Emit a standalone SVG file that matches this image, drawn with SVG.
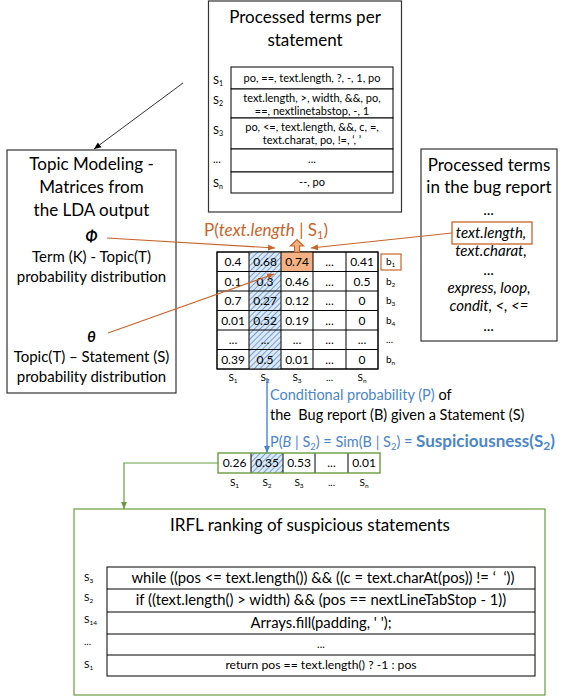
<svg xmlns="http://www.w3.org/2000/svg" width="566" height="700" viewBox="0 0 566 700">
<defs>
<style>
text{font-family:Lato,"Liberation Sans",sans-serif;fill:#000}
.t17{font-size:17px}
.t15{font-size:15px}
.t14{font-size:14.5px}
.t12{font-size:12px}
.t11{font-size:11px}
.t10{font-size:10px}
.mid{text-anchor:middle}
.box{fill:#fff;stroke:#333;stroke-width:1.2}
.cell{fill:#fff;stroke:#000;stroke-width:1}
.blue{fill:#4A86C8}
.orange{fill:#C8642A}
.it{font-style:italic}
</style>
<pattern id="hatch" width="4" height="4" patternUnits="userSpaceOnUse" patternTransform="rotate(45)">
<rect width="4" height="4" fill="#DCE8F5"/>
<line x1="0" y1="0" x2="0" y2="4" stroke="#5B8FCB" stroke-width="1.6"/>
</pattern>
<marker id="ao" markerWidth="8" markerHeight="8" refX="7" refY="4" orient="auto" markerUnits="userSpaceOnUse"><path d="M0,1 L7,4 L0,7 Z" fill="#C8642A"/></marker>
<marker id="ab" markerWidth="8" markerHeight="8" refX="7" refY="4" orient="auto" markerUnits="userSpaceOnUse"><path d="M0,1 L7,4 L0,7 Z" fill="#4A86C8"/></marker>
<marker id="ag" markerWidth="8" markerHeight="8" refX="7" refY="4" orient="auto" markerUnits="userSpaceOnUse"><path d="M0,1 L7,4 L0,7 Z" fill="#6A9C3F"/></marker>
<marker id="ak" markerWidth="8" markerHeight="8" refX="7" refY="4" orient="auto" markerUnits="userSpaceOnUse"><path d="M0,1 L7,4 L0,7 Z" fill="#000"/></marker>
</defs>
<rect width="566" height="700" fill="#fff"/>

<g id="statement-terms">
<rect class="box" x="208.5" y="1" width="193" height="211"/>
<text class="t17 mid" x="305" y="23">Processed terms per</text>
<text class="t17 mid" x="305" y="46">statement</text>
<rect class="cell" x="231" y="67" width="162" height="22"/>
<rect class="cell" x="231" y="89" width="162" height="29"/>
<rect class="cell" x="231" y="118" width="162" height="31"/>
<rect class="cell" x="231" y="149" width="162" height="23"/>
<rect class="cell" x="231" y="172" width="162" height="21"/>
<text class="t11 mid" x="312" y="82">po, ==, text.length, ?, -, 1, po</text>
<text class="t11 mid" x="312" y="102">text.length, &gt;, width, &amp;&amp;, po,</text>
<text class="t11 mid" x="312" y="115">==, nextlinetabstop, -, 1</text>
<text class="t11 mid" x="312" y="131">po, &lt;=, text.length, &amp;&amp;, c, =,</text>
<text class="t11 mid" x="312" y="144">text.charat, po, !=, ‘, ’</text>
<text class="t11 mid" x="312" y="163">...</text>
<text class="t11 mid" x="312" y="186">--, po</text>
<text class="t11" x="213" y="84">S<tspan font-size="7" dy="2">1</tspan></text>
<text class="t11" x="213" y="104">S<tspan font-size="7" dy="2">2</tspan></text>
<text class="t11" x="213" y="134">S<tspan font-size="7" dy="2">3</tspan></text>
<text class="t11" x="213" y="163">...</text>
<text class="t11" x="213" y="187">S<tspan font-size="7" dy="2">n</tspan></text>
</g>

<g id="topic-modeling">
<rect class="box" x="7" y="150" width="169" height="243"/>
<text class="t17 mid" x="91.5" y="170">Topic Modeling -</text>
<text class="t17 mid" x="91.5" y="193">Matrices from</text>
<text class="t17 mid" x="91.5" y="216">the LDA output</text>
<text class="t15 mid" x="91.5" y="242" font-weight="bold" font-style="italic">Φ</text>
<text class="t15 mid" x="91.5" y="262">Term (K) - Topic(T)</text>
<text class="t15 mid" x="91.5" y="282">probability distribution</text>
<text class="t15 mid" x="91.5" y="342" font-weight="bold" font-style="italic">θ</text>
<text class="t15 mid" x="91.5" y="362">Topic(T) – Statement (S)</text>
<text class="t15 mid" x="91.5" y="382">probability distribution</text>
</g>

<g id="bug-report-terms">
<rect class="box" x="421" y="149" width="136" height="192"/>
<text class="t17 mid" x="489" y="171">Processed terms</text>
<text class="t17 mid" x="489" y="193">in the bug report</text>
<text class="t15 mid it" x="489" y="215">...</text>
<rect x="452" y="222" width="80" height="22" fill="none" stroke="#C8642A" stroke-width="1.3"/>
<text class="t15 mid it" x="491" y="238">text.length,</text>
<text class="t15 mid it" x="491" y="256">text.charat,</text>
<text class="t15 mid it" x="489" y="275">...</text>
<text class="t15 mid it" x="489" y="293">express, loop,</text>
<text class="t15 mid it" x="489" y="311">condit, &lt;, &lt;=</text>
<text class="t15 mid it" x="489" y="331">...</text>
</g>

<g id="matrix">
<g class="cells">
<rect class="cell" x="217" y="252" width="161" height="117"/>
<rect x="249" y="252" width="32" height="117" fill="url(#hatch)"/>
<rect x="281" y="252" width="32" height="19.5" fill="#F4B183"/>
<path d="M217,271.5 H378 M217,291 H378 M217,310.5 H378 M217,330 H378 M217,349.5 H378 M249,252 V369 M281,252 V369 M313,252 V369 M346,252 V369" stroke="#000" stroke-width="1" fill="none"/>
<rect x="217" y="252" width="161" height="117" fill="none" stroke="#000" stroke-width="1"/>
</g>
<g class="t12 mid">
<text x="233" y="266">0.4</text><text x="265" y="266">0.68</text><text x="297" y="266">0.74</text><text x="329.5" y="266">...</text><text x="362" y="266">0.41</text>
<text x="233" y="285.5">0.1</text><text x="265" y="285.5">0.3</text><text x="297" y="285.5">0.46</text><text x="329.5" y="285.5">...</text><text x="362" y="285.5">0.5</text>
<text x="233" y="305">0.7</text><text x="265" y="305">0.27</text><text x="297" y="305">0.12</text><text x="329.5" y="305">...</text><text x="362" y="305">0</text>
<text x="233" y="324.5">0.01</text><text x="265" y="324.5">0.52</text><text x="297" y="324.5">0.19</text><text x="329.5" y="324.5">...</text><text x="362" y="324.5">0</text>
<text x="233" y="344">...</text><text x="265" y="344">...</text><text x="297" y="344">...</text><text x="329.5" y="344">...</text><text x="362" y="344">...</text>
<text x="233" y="363.5">0.39</text><text x="265" y="363.5">0.5</text><text x="297" y="363.5">0.01</text><text x="329.5" y="363.5">...</text><text x="362" y="363.5">0</text>
</g>
<g class="t10 mid">
<text x="233" y="381">S<tspan font-size="6.5" dy="2">1</tspan></text>
<text x="265" y="381">S<tspan font-size="6.5" dy="2">2</tspan></text>
<text x="297" y="381">S<tspan font-size="6.5" dy="2">3</tspan></text>
<text x="329.5" y="381">...</text>
<text x="362" y="381">S<tspan font-size="6.5" dy="2">n</tspan></text>
</g>
<rect x="381" y="254" width="20" height="16" fill="none" stroke="#C8642A" stroke-width="1.2"/>
<g class="t10">
<text x="386" y="265">b<tspan font-size="6.5" dy="2">1</tspan></text>
<text x="386" y="284.5">b<tspan font-size="6.5" dy="2">2</tspan></text>
<text x="386" y="304">b<tspan font-size="6.5" dy="2">3</tspan></text>
<text x="386" y="323.5">b<tspan font-size="6.5" dy="2">4</tspan></text>
<text x="386" y="343">...</text>
<text x="386" y="362.5">b<tspan font-size="6.5" dy="2">n</tspan></text>
</g>
</g>

<g id="conditional-label">
<text class="t17 orange" x="204" y="236">P(<tspan class="it">text.length</tspan> | S<tspan font-size="11" dy="3">1</tspan><tspan dy="-3">)</tspan></text>
<path d="M294.5,252 V246 H290.5 L297,239.5 L303.5,246 H299.5 V252 Z" fill="#F4B183" stroke="#C8642A" stroke-width="1.2"/>
</g>

<g id="suspiciousness-label">
<text class="t14" x="270" y="400"><tspan class="blue">Conditional probability (P)</tspan> of</text>
<text class="t14" x="270" y="420" xml:space="preserve">the  Bug report (B) given a Statement (S)</text>
<text class="t14 blue" x="270" y="447">P(<tspan class="it">B</tspan> | S<tspan font-size="9.5" dy="3">2</tspan><tspan dy="-3">) = Sim(B | S</tspan><tspan font-size="9.5" dy="3">2</tspan><tspan dy="-3">) = </tspan><tspan font-size="17" font-weight="bold">Suspiciousness(S</tspan><tspan font-size="12" font-weight="bold" dy="3">2</tspan><tspan font-size="17" font-weight="bold" dy="-3">)</tspan></text>
</g>

<g id="suspiciousness-row">
<rect x="218" y="453" width="162" height="20" fill="#fff"/>
<rect x="251" y="453" width="32" height="20" fill="url(#hatch)"/>
<path d="M251,453 V473 M283,453 V473 M315,453 V473 M348,453 V473" stroke="#000" stroke-width="1"/>
<rect x="218" y="453" width="162" height="20" fill="none" stroke="#6A9C3F" stroke-width="1.4"/>
<g class="t12 mid">
<text x="234.5" y="467">0.26</text><text x="267" y="467">0.35</text><text x="299" y="467">0.53</text><text x="331.5" y="467">...</text><text x="364" y="467">0.01</text>
</g>
<g class="t10 mid">
<text x="234.5" y="486">S<tspan font-size="6.5" dy="2">1</tspan></text>
<text x="267" y="486">S<tspan font-size="6.5" dy="2">2</tspan></text>
<text x="299" y="486">S<tspan font-size="6.5" dy="2">3</tspan></text>
<text x="331.5" y="486">...</text>
<text x="364" y="486">S<tspan font-size="6.5" dy="2">n</tspan></text>
</g>
</g>

<g id="irfl-ranking">
<rect x="74" y="509" width="471" height="186" fill="#fff" stroke="#6A9C3F" stroke-width="1.2"/>
<text class="t17 mid" x="310" y="531">IRFL ranking of suspicious statements</text>
<rect class="cell" x="107" y="567" width="428" height="109"/>
<path d="M107,589 H535 M107,612 H535 M107,634 H535 M107,655 H535" stroke="#000" stroke-width="1"/>
<text class="mid" font-size="14.8" x="323" y="583" xml:space="preserve">while ((pos &lt;= text.length()) &amp;&amp; ((c = text.charAt(pos)) != ‘  ‘))</text>
<text class="mid" font-size="14.8" x="321" y="605">if ((text.length() &gt; width) &amp;&amp; (pos == nextLineTabStop - 1))</text>
<text class="mid" font-size="14.8" x="321" y="628">Arrays.fill(padding, ' ');</text>
<text class="t11 mid" x="321" y="648">...</text>
<text class="mid" font-size="12.2" x="321" y="669">return pos == text.length() ? -1 : pos</text>
<text class="t10" x="84" y="581">S<tspan font-size="6.5" dy="2">3</tspan></text>
<text class="t10" x="84" y="601">S<tspan font-size="6.5" dy="2">2</tspan></text>
<text class="t10" x="84" y="623">S<tspan font-size="6.5" dy="2">14</tspan></text>
<text class="t10" x="84" y="645">...</text>
<text class="t10" x="84" y="668">S<tspan font-size="6.5" dy="2">1</tspan></text>
</g>

<g id="connectors" fill="none">
<line x1="183" y1="83" x2="94" y2="149" stroke="#000" stroke-width="0.8" marker-end="url(#ak)"/>
<line x1="107" y1="238" x2="275" y2="248" stroke="#C8642A" stroke-width="1.2" marker-end="url(#ao)"/>
<line x1="452" y1="233" x2="311" y2="248" stroke="#C8642A" stroke-width="1.2" marker-end="url(#ao)"/>
<line x1="108" y1="333" x2="274" y2="274" stroke="#C8642A" stroke-width="1.2" marker-end="url(#ao)"/>
<line x1="267" y1="378" x2="267" y2="453" stroke="#4A86C8" stroke-width="1.4" marker-end="url(#ab)"/>
<path d="M218,463 H124 V509" stroke="#6A9C3F" stroke-width="1.2" marker-end="url(#ag)"/>
</g>
</svg>
